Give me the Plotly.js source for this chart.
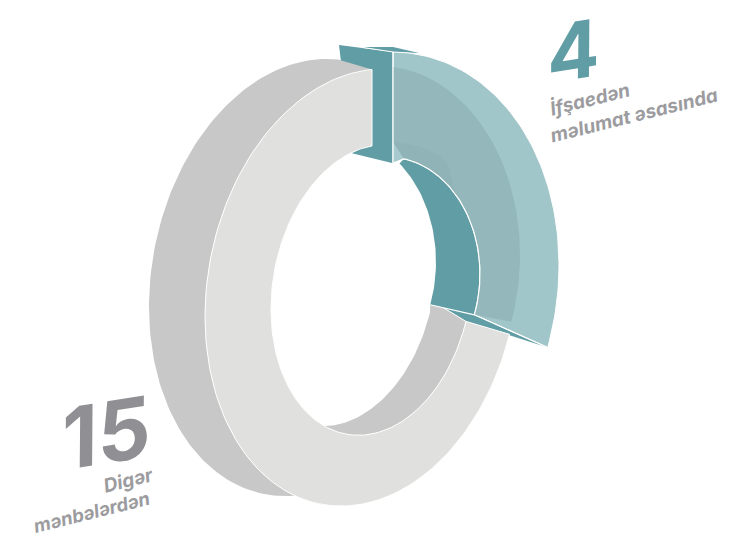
<!DOCTYPE html>
<html><head><meta charset="utf-8">
<script src="https://cdn.plot.ly/plotly-3.0.1.min.js"></script>
<style>html,body{margin:0;padding:0;background:#fff}</style></head>
<body><div id="chart" style="width:731px;height:538px"></div>
<script>
// ---- data ----
const categories = ["İfşaedən məlumat əsasında", "Digər mənbələrdən"];
const values = [4, 15];
const labelLines = [["İfşaedən", "məlumat əsasında"], ["Digər", "mənbələrdən"]];

// ---- projection of the ring: each circle of the drawing is an ellipse on screen ----
const deg = Math.PI / 180;
const ell = (cx, cy, a, s, b) => ({cx, cy, a, s, b});
const at = (e, t) => [e.cx + e.a * Math.cos(t * deg),
                      e.cy - e.s * Math.cos(t * deg) + e.b * Math.sin(t * deg)];
function arc(e, t0, t1) {
  const n = Math.max(2, Math.ceil(Math.abs(t1 - t0) / 1.5)), out = [];
  for (let i = 0; i <= n; i++) out.push(at(e, t0 + (t1 - t0) * i / n));
  return out;
}
const tAtX = (e, x) => -Math.acos((x - e.cx) / e.a) / deg;   // upper half of the ellipse
const lerp = (p, q, f) => [p[0] + (q[0] - p[0]) * f, p[1] + (q[1] - p[1]) * f];

const total = values.reduce((p, c) => p + c, 0);
const tBase = -87.4;
const viewStretch = 1.417;              // the oblique view widens the slice on screen
const tEnd = tBase + 360 * values[0] / total * viewStretch;

// grey ring
const frontOut = ell(362, 287.5, 157, 29, 216.6);
const frontIn  = ell(371.5, 290, 100.5, 19, 144);
const backOut  = ell(306, 277.5, 157, 29, 216.6);
const backIn   = ell(335.5, 281, 100.5, 19, 144);
// teal slice, pulled toward the viewer
const tealOut  = ell(372, 290, 187, 25, 236.7);
const tealMid  = ell(375, 260, 145, 5, 194);
const tealIn   = ell(386, 276, 94, 2, 119);
const tealBack = ell(341, 262, 95, 0, 125);
const tealGlow = ell(385, 173, 65, 0, 31);

const cutGrey = 372, cutTeal = 393;
const gOutT = tAtX(frontOut, cutGrey), gInT = tAtX(frontIn, cutGrey);
const tOutT = tAtX(tealOut, cutTeal), tLipT = tAtX(tealIn, 404), tMidT = tAtX(tealMid, cutTeal);

const A = at(tealOut, tOutT);
const B0 = at(tealIn, tAtX(tealIn, cutTeal));
const B = [B0[0], B0[1] + 6];
const cutBackTop = [A[0] - 54, A[1] - 7], cutBackBot = [B[0] - 41, B[1] - 10];
const lid = [[A[0] - 33, A[1] - 5], [A[0], A[1] - 5], [A[0] + 26, A[1] + 1], A];

const GREY_D = "#c8c8c8", GREY_L = "#e0e0de", TEAL = "#609da4",
      PALE = "#a1c6c9", BAND = "#93b7ba", GLOW = "#8fb3b6";

const traces = [];
function poly(pts, fill, line, w) {
  traces.push({type: "scatter", mode: "lines", x: pts.map(p => p[0]), y: pts.map(p => p[1]),
    fill: "toself", fillcolor: fill, hoverinfo: "skip", showlegend: false,
    line: {color: line || fill, width: line ? (w || 1) : 0, shape: "linear"}});
}
function stroke(pts, w) {
  traces.push({type: "scatter", mode: "lines", x: pts.map(p => p[0]), y: pts.map(p => p[1]),
    hoverinfo: "skip", showlegend: false, line: {color: "#fff", width: w || 1}});
}
const close = p => p.concat([p[0]]);

// cut face of the slice and its lid
poly(close([cutBackTop, A, B, cutBackBot]), TEAL);
poly(close(lid), TEAL);
stroke([lid[0], A], 1);
// sliver under the slice end
const wallEnd = at(tealBack, tEnd), inEnd = at(tealIn, tEnd), outEnd = at(tealOut, tEnd);
const gOutEnd = at(frontOut, tEnd), gInEnd = at(frontIn, tEnd);
const lensStart = lerp(wallEnd, inEnd, 0.3);
poly(close([lensStart, inEnd, outEnd, [gOutEnd[0], gOutEnd[1] + 1], gInEnd]), TEAL);

// grey side wall
poly(close(arc(backOut, 360 + tAtX(backOut, 338), 93).concat(arc(frontOut, 100, 360 + gOutT))), GREY_D);
poly(close([wallEnd, lensStart, gInEnd].concat(arc(frontIn, tEnd, 119), arc(backIn, 98, tEnd))), GREY_D);
// grey front face
poly(close(arc(frontOut, tEnd, 360 + gOutT).concat(arc(frontIn, 360 + gInT, tEnd))), GREY_L, "#fff", 1);
stroke([lensStart, gInEnd], 1);

// teal inner wall
poly(close(arc(tealIn, tLipT, tEnd).concat(arc(tealBack, tEnd, -52))), TEAL);
// teal front face (translucent look)
poly(close(arc(tealOut, tOutT, tEnd).concat(arc(tealIn, tEnd, tLipT), [B])), PALE, "#fff", 1);
poly(close(arc(tealMid, tMidT, tEnd).concat(arc(tealIn, tEnd, tLipT), [B])), BAND);
poly(close(arc(tealGlow, tAtX(tealGlow, cutTeal), 0).concat(arc(tealIn, tAtX(tealIn, 456), tLipT))), GLOW);
poly(close([at(tealGlow, tAtX(tealGlow, cutTeal)), at(tealIn, tLipT), B]), "#a6cacd");
// white seams
stroke([B].concat(arc(tealIn, tLipT, tEnd)), 1.2);
stroke([A, B], 1.2);
stroke([wallEnd, inEnd, outEnd], 1.2);

const txt = (text, x, y, size, color, angle, weight) => ({
  text, x, y, xref: "x", yref: "y", showarrow: false, xanchor: "center", yanchor: "middle",
  textangle: angle, font: {family: "Inter, 'Liberation Sans', sans-serif", size, color, weight, style: "italic"}
});
const annotations = [
  txt(String(values[0]), 572, 50, 78, "#609da4", -9, 700),
  txt(labelLines[0][0], 590, 99, 19, "#9c9c9f", -14, 700),
  txt(labelLines[0][1], 634, 115, 19, "#9c9c9f", -14, 700),
  txt(String(values[1]), 105, 432, 84, "#909094", -9, 700),
  txt(labelLines[1][0], 128, 480, 19, "#9c9c9f", -14, 700),
  txt(labelLines[1][1], 91, 511.5, 18.5, "#9c9c9f", -14, 700)
];

Plotly.newPlot("chart", traces, {
  width: 731, height: 538, margin: {l: 0, r: 0, t: 0, b: 0},
  paper_bgcolor: "#fff", plot_bgcolor: "#fff", showlegend: false,
  xaxis: {range: [0, 731], visible: false, fixedrange: true},
  yaxis: {range: [538, 0], visible: false, fixedrange: true},
  annotations
}, {displayModeBar: false, staticPlot: true});
</script></body></html>
